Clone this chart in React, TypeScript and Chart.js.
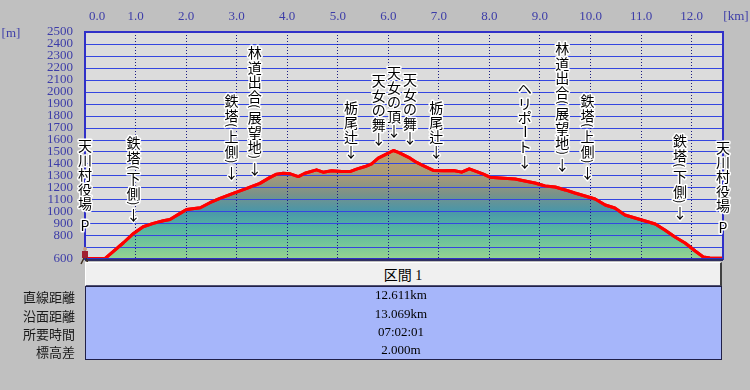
import React, { useEffect, useRef } from 'react';
import { Chart, registerables } from 'chart.js';
Chart.register(...registerables);

// ---- data ----
const distKm = [0, 0.40, 0.55, 0.76, 0.96, 1.15, 1.35, 1.55, 1.68, 1.88, 2.01, 2.28, 2.47, 2.67, 2.93, 3.20, 3.46, 3.66, 3.79, 3.92, 4.06, 4.22, 4.35, 4.58, 4.71, 4.88, 5.08, 5.24, 5.37, 5.54, 5.67, 5.80, 5.93, 6.10, 6.20, 6.30, 6.43, 6.56, 6.73, 6.89, 7.09, 7.29, 7.45, 7.60, 7.75, 7.88, 8.01, 8.21, 8.51, 8.70, 8.90, 9.10, 9.30, 9.50, 9.69, 9.89, 10.09, 10.29, 10.48, 10.68, 10.88, 11.08, 11.28, 11.47, 11.67, 11.87, 12.07, 12.23, 12.36, 12.62];
const elevM = [605, 605, 660, 736, 814, 870, 898, 920, 931, 982, 1015, 1029, 1071, 1107, 1149, 1191, 1233, 1283, 1310, 1318, 1313, 1290, 1318, 1346, 1327, 1338, 1332, 1332, 1352, 1374, 1397, 1444, 1472, 1508, 1492, 1472, 1444, 1408, 1374, 1341, 1338, 1341, 1327, 1355, 1332, 1310, 1285, 1278, 1270, 1253, 1236, 1211, 1203, 1178, 1152, 1127, 1102, 1052, 1027, 968, 943, 918, 893, 843, 784, 734, 667, 617, 608, 607];

const xTickValues = [0, 1, 2, 3, 4, 5, 6, 7, 8, 9, 10, 11, 12];
const xTickLabels = ['0.0', '1.0', '2.0', '3.0', '4.0', '5.0', '6.0', '7.0', '8.0', '9.0', '10.0', '11.0', '12.0'];
const yMin = 600;
const yMax = 2500;
const xMax = 12.62;
const hiddenYTicks = [700];

const markerNames = ['天川村役場', '鉄塔（下側）', '鉄塔（上側）', '林道出合（展望地）', '栃尾辻', '天女の舞', '天女の頂', '天女の舞', '栃尾辻', 'ヘリポート', '林道出合（展望地）', '鉄塔（上側）', '鉄塔（下側）', '天川村役場'];
const markerKm = [0, 0.96, 2.90, 3.36, 5.26, 5.81, 6.11, 6.43, 6.95, 8.70, 9.44, 9.94, 11.77, 12.62];
const markerTopM = [1554, 1579, 1931, 2333, 1872, 2098, 2165, 2107, 1872, 2031, 2366, 1931, 1596, 1537];
const markerEnd = ['P', '↓', '↓', '↓', '↓', '↓', '↓', '↓', '↓', '↓', '↓', '↓', '↓', 'P'];

const sectionTitle = '区間 1';
const rowLabels = ['直線距離', '沿面距離', '所要時間', '標高差'];
const rowValues = ['12.611km', '13.069km', '07:02:01', '2.000m'];

const AXIS_BLUE = '#3c3ca8';
const HGRID_BLUE = '#3446e0';
const CJK = '"Noto Sans CJK JP", "Noto Sans", sans-serif';
const SERIF = '"Liberation Serif", "DejaVu Serif", serif';

function drawVertical(ctx: CanvasRenderingContext2D, x: number, yTop: number, text: string, end: string) {
  const F = 14.5;
  const P = 7;
  const chars: string[] = Array.from(text);
  chars.push(end === 'P' ? ' ' : '');
  chars.push(end);
  let y = yTop;
  let prevHalf = -1;
  ctx.save();
  ctx.textAlign = 'center';
  ctx.textBaseline = 'middle';
  ctx.lineJoin = 'round';
  ctx.strokeStyle = '#ffffff';
  ctx.fillStyle = '#000000';
  for (const ch of chars) {
    if (ch === '') continue;
    const isParen = ch === '（' || ch === '）';
    const h = ch === ' ' ? F * 0.5 : isParen ? P : F;
    y = prevHalf < 0 ? yTop : y + prevHalf + h / 2;
    prevHalf = h / 2;
    if (ch === ' ') continue;
    ctx.save();
    ctx.translate(x, y);
    if (isParen) {
      ctx.rotate(Math.PI / 2);
      ctx.font = `12px ${CJK}`;
      const c = ch === '（' ? '(' : ')';
      ctx.lineWidth = 3;
      ctx.strokeText(c, 0, 0);
      ctx.fillText(c, 0, 0);
    } else if (ch === 'ー') {
      ctx.rotate(Math.PI / 2);
      ctx.font = `14px ${CJK}`;
      ctx.lineWidth = 3;
      ctx.strokeText(ch, 0, 0);
      ctx.fillText(ch, 0, 0);
    } else {
      ctx.font = `14px ${CJK}`;
      ctx.lineWidth = 3;
      ctx.strokeText(ch, 0, 1);
      ctx.fillText(ch, 0, 1);
    }
    ctx.restore();
  }
  ctx.restore();
}

function drawHiker(ctx: CanvasRenderingContext2D, x: number, y: number) {
  ctx.save();
  ctx.fillStyle = '#a02030';
  ctx.fillRect(x - 3, y - 8, 6, 7);
  ctx.fillStyle = '#c8a080';
  ctx.beginPath();
  ctx.arc(x, y - 10, 2, 0, Math.PI * 2);
  ctx.fill();
  ctx.strokeStyle = '#403020';
  ctx.lineWidth = 1.5;
  ctx.beginPath();
  ctx.moveTo(x - 1, y - 1);
  ctx.lineTo(x - 4, y + 5);
  ctx.moveTo(x + 1, y - 1);
  ctx.lineTo(x + 3, y + 5);
  ctx.stroke();
  ctx.restore();
}

const decorPlugin = {
  id: 'decor',
  beforeDraw(chart: any) {
    const { ctx, chartArea: a } = chart;
    ctx.save();
    ctx.fillStyle = '#dcdcdc';
    ctx.fillRect(a.left, a.top, a.right - a.left, a.bottom - a.top);
    ctx.restore();
  },
  afterDatasetsDraw(chart: any) {
    // horizontal grid lines over the fill, at the y scale's ticks
    const { ctx, chartArea: a, scales } = chart;
    ctx.save();
    ctx.strokeStyle = HGRID_BLUE;
    ctx.lineWidth = 1;
    ctx.beginPath();
    scales.y.ticks.forEach((t: any) => {
      const py = Math.round(scales.y.getPixelForValue(t.value)) + 0.5;
      ctx.moveTo(a.left, py);
      ctx.lineTo(a.right, py);
    });
    ctx.stroke();
    ctx.restore();
  },
  afterDraw(chart: any) {
    const { ctx, chartArea: a, scales } = chart;
    const meta = chart.getDatasetMeta(0);
    ctx.save();
    meta.dataset.draw(ctx, a);
    ctx.restore();
    ctx.save();
    ctx.strokeStyle = '#3030c8';
    ctx.lineWidth = 2;
    ctx.strokeRect(a.left, a.top, a.right - a.left, a.bottom - a.top);
    ctx.strokeStyle = '#303060';
    ctx.lineWidth = 2;
    ctx.beginPath();
    ctx.moveTo(a.left, a.bottom + 1);
    ctx.lineTo(a.right, a.bottom + 1);
    ctx.stroke();
    ctx.restore();
    ctx.save();
    ctx.font = `13px ${SERIF}`;
    ctx.fillStyle = AXIS_BLUE;
    ctx.textAlign = 'center';
    ctx.textBaseline = 'middle';
    xTickValues.forEach((v, i) => {
      let px = scales.x.getPixelForValue(v);
      if (i === 0) px += 12;
      ctx.fillText(xTickLabels[i], px, 17);
    });
    ctx.fillText('[km]', 736, 17);
    ctx.fillText('[m]', 11, 34);
    ctx.restore();
    markerNames.forEach((name, i) => {
      const px = scales.x.getPixelForValue(markerKm[i]);
      const py = scales.y.getPixelForValue(markerTopM[i]);
      drawVertical(ctx, px, py, name, markerEnd[i]);
    });
    drawHiker(ctx, scales.x.getPixelForValue(0), a.bottom);
  },
};

export default function App() {
  const ref = useRef<HTMLCanvasElement>(null);
  useEffect(() => {
    if (!ref.current) return;
    const chart = new Chart(ref.current, {
      type: 'line',
      data: {
        datasets: [
          {
            data: distKm.map((d, i) => ({ x: d, y: elevM[i] })),
            borderColor: '#ff0000',
            borderWidth: 3,
            borderJoinStyle: 'round',
            pointRadius: 0,
            tension: 0,
            fill: 'start',
            backgroundColor: (c: any) => {
              const ch = c.chart;
              const { chartArea, scales } = ch;
              if (!chartArea || !scales.y) return 'rgba(0,0,0,0)';
              const y0 = scales.y.getPixelForValue(1520);
              const y1 = scales.y.getPixelForValue(600);
              const g = ch.ctx.createLinearGradient(0, y0, 0, y1);
              g.addColorStop(0, '#c0a26e');
              g.addColorStop(0.24, '#a89a78');
              g.addColorStop(0.40, '#7c9288');
              g.addColorStop(0.56, '#4a96a8');
              g.addColorStop(0.73, '#56b6a0');
              g.addColorStop(0.88, '#78c898');
              g.addColorStop(1, '#98d490');
              return g;
            },
          },
        ],
      },
      options: {
        responsive: false,
        animation: false,
        devicePixelRatio: 1,
        layout: { padding: { left: 0, right: 27, top: 0, bottom: 131 } },
        plugins: { legend: { display: false }, tooltip: { enabled: false } },
        elements: { point: { radius: 0 } },
        scales: {
          x: {
            type: 'linear',
            position: 'top',
            min: 0,
            max: xMax,
            ticks: { display: false, stepSize: 1, includeBounds: false },
            grid: { z: 1, color: '#1a1a80', lineWidth: 1, drawTicks: false },
            border: { display: false, dash: [1, 2] },
            afterFit: (s: any) => { s.height = 32; },
          },
          y: {
            type: 'linear',
            min: yMin,
            max: yMax,
            ticks: {
              stepSize: 100,
              autoSkip: false,
              padding: 12,
              color: AXIS_BLUE,
              font: { family: 'Liberation Serif', size: 13 },
              callback: (v: any) => (hiddenYTicks.includes(v) ? '' : String(v)),
            },
            grid: { display: false, drawTicks: false },
            border: { display: false },
            afterFit: (s: any) => { s.width = 85; },
          },
        },
      } as any,
      plugins: [decorPlugin],
    });
    return () => chart.destroy();
  }, []);

  const rowCenters = [296, 315, 333, 351];
  return (
    <div style={{ position: 'absolute', left: 0, top: 0, width: 750, height: 390, background: '#c0c0c0', overflow: 'hidden' }}>
      <canvas ref={ref} width={750} height={390} style={{ position: 'absolute', left: 0, top: 0, width: 750, height: 390 }} />
      <div style={{ position: 'absolute', left: 85, top: 262, width: 637, height: 25, boxSizing: 'border-box', background: '#f0f0f0', borderTop: '1px solid #ffffff', borderLeft: '1px solid #ffffff', borderRight: '2px solid #404040', borderBottom: '2px solid #505070', display: 'flex', alignItems: 'center', justifyContent: 'center', font: `14px "Liberation Serif", "Noto Sans CJK JP", serif`, color: '#000' }}>
        {sectionTitle}
      </div>
      <div style={{ position: 'absolute', left: 85, top: 286, width: 637, height: 74, boxSizing: 'border-box', background: '#a6b6fa', border: '1px solid #202048' }} />
      {rowLabels.map((t, i) => (
        <div key={'l' + i} style={{ position: 'absolute', left: 0, width: 75, top: rowCenters[i] - 9, height: 18, lineHeight: '18px', textAlign: 'right', font: `13px ${CJK}`, color: '#1a1a1a', whiteSpace: 'nowrap' }}>{t}</div>
      ))}
      {rowValues.map((t, i) => (
        <div key={'v' + i} style={{ position: 'absolute', left: 85, width: 632, top: rowCenters[i] - 9, height: 18, lineHeight: '18px', textAlign: 'center', font: `13px ${SERIF}`, color: '#000', whiteSpace: 'nowrap' }}>{t}</div>
      ))}
    </div>
  );
}
